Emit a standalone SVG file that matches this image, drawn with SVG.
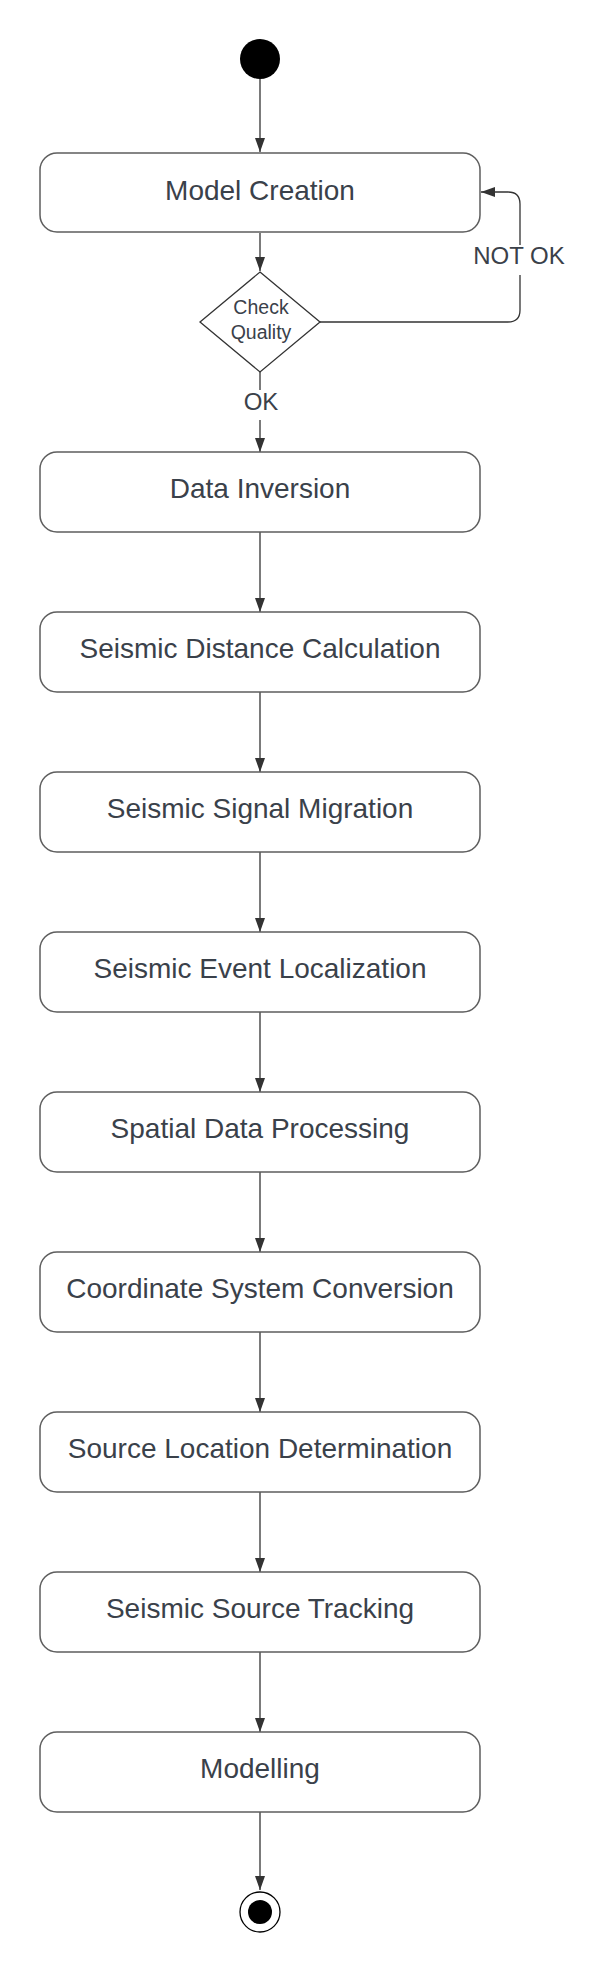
<svg xmlns="http://www.w3.org/2000/svg" width="607" height="1972" viewBox="0 0 607 1972">
<defs>
<marker id="arr" markerUnits="userSpaceOnUse" markerWidth="16" markerHeight="12" refX="14" refY="5" orient="auto">
<path d="M0,0 L14,5 L0,10 Z" fill="#333333"/>
</marker>
<style>
.box{fill:#ffffff;stroke:#5e5e5e;stroke-width:1.5}
.lbl{font-family:"Liberation Sans",Arial,sans-serif;font-size:28px;fill:#3a414a;text-anchor:middle}
.small{font-family:"Liberation Sans",Arial,sans-serif;font-size:19.5px;fill:#3a414a;text-anchor:middle}
.edge{font-family:"Liberation Sans",Arial,sans-serif;font-size:24px;fill:#3a414a;text-anchor:middle}
.conn{fill:none;stroke:#333333;stroke-width:1.3}
</style>
</defs>
<rect width="607" height="1972" fill="#ffffff"/>
<g id="connectors">
<line class="conn" x1="260" y1="79" x2="260" y2="152" marker-end="url(#arr)"/>
<line class="conn" x1="260" y1="233" x2="260" y2="271" marker-end="url(#arr)"/>
<line class="conn" x1="260" y1="372" x2="260" y2="452" marker-end="url(#arr)"/>
<path class="conn" d="M320,322 H508 Q520,322 520,310 V204 Q520,192 508,192 H481" marker-end="url(#arr)"/>
<line class="conn" x1="260" y1="532" x2="260" y2="612" marker-end="url(#arr)"/>
<line class="conn" x1="260" y1="692" x2="260" y2="772" marker-end="url(#arr)"/>
<line class="conn" x1="260" y1="852" x2="260" y2="932" marker-end="url(#arr)"/>
<line class="conn" x1="260" y1="1012" x2="260" y2="1092" marker-end="url(#arr)"/>
<line class="conn" x1="260" y1="1172" x2="260" y2="1252" marker-end="url(#arr)"/>
<line class="conn" x1="260" y1="1332" x2="260" y2="1412" marker-end="url(#arr)"/>
<line class="conn" x1="260" y1="1492" x2="260" y2="1572" marker-end="url(#arr)"/>
<line class="conn" x1="260" y1="1652" x2="260" y2="1732" marker-end="url(#arr)"/>
<line class="conn" x1="260" y1="1812" x2="260" y2="1890" marker-end="url(#arr)"/>
<rect x="244" y="390" width="36" height="30" fill="#ffffff"/>
<text class="edge" x="261" y="410">OK</text>
<rect x="470" y="245" width="100" height="30" fill="#ffffff"/>
<text class="edge" x="519" y="264">NOT OK</text>
</g>
<g id="start"><circle cx="260" cy="59" r="20" fill="#000000"/></g>
<g id="model-creation"><rect class="box" x="40" y="153" width="440" height="79" rx="17"/><text class="lbl" x="260" y="199.5">Model Creation</text></g>
<g id="check-quality"><polygon points="260,272 320,322 260,372 200,322" fill="#ffffff" stroke="#333333" stroke-width="1.3"/><text class="small" x="261" y="314">Check</text><text class="small" x="261" y="339">Quality</text></g>
<g id="data-inversion"><rect class="box" x="40" y="452" width="440" height="80" rx="17"/><text class="lbl" x="260" y="498">Data Inversion</text></g>
<g id="seismic-distance"><rect class="box" x="40" y="612" width="440" height="80" rx="17"/><text class="lbl" x="260" y="658">Seismic Distance Calculation</text></g>
<g id="signal-migration"><rect class="box" x="40" y="772" width="440" height="80" rx="17"/><text class="lbl" x="260" y="818">Seismic Signal Migration</text></g>
<g id="event-localization"><rect class="box" x="40" y="932" width="440" height="80" rx="17"/><text class="lbl" x="260" y="978">Seismic Event Localization</text></g>
<g id="spatial-processing"><rect class="box" x="40" y="1092" width="440" height="80" rx="17"/><text class="lbl" x="260" y="1138">Spatial Data Processing</text></g>
<g id="coordinate-conversion"><rect class="box" x="40" y="1252" width="440" height="80" rx="17"/><text class="lbl" x="260" y="1298">Coordinate System Conversion</text></g>
<g id="source-location"><rect class="box" x="40" y="1412" width="440" height="80" rx="17"/><text class="lbl" x="260" y="1458">Source Location Determination</text></g>
<g id="source-tracking"><rect class="box" x="40" y="1572" width="440" height="80" rx="17"/><text class="lbl" x="260" y="1618">Seismic Source Tracking</text></g>
<g id="modelling"><rect class="box" x="40" y="1732" width="440" height="80" rx="17"/><text class="lbl" x="260" y="1778">Modelling</text></g>
<g id="end"><circle cx="260" cy="1912" r="20" fill="#ffffff" stroke="#000000" stroke-width="1.3"/><circle cx="260" cy="1912" r="12" fill="#000000"/></g>
</svg>
